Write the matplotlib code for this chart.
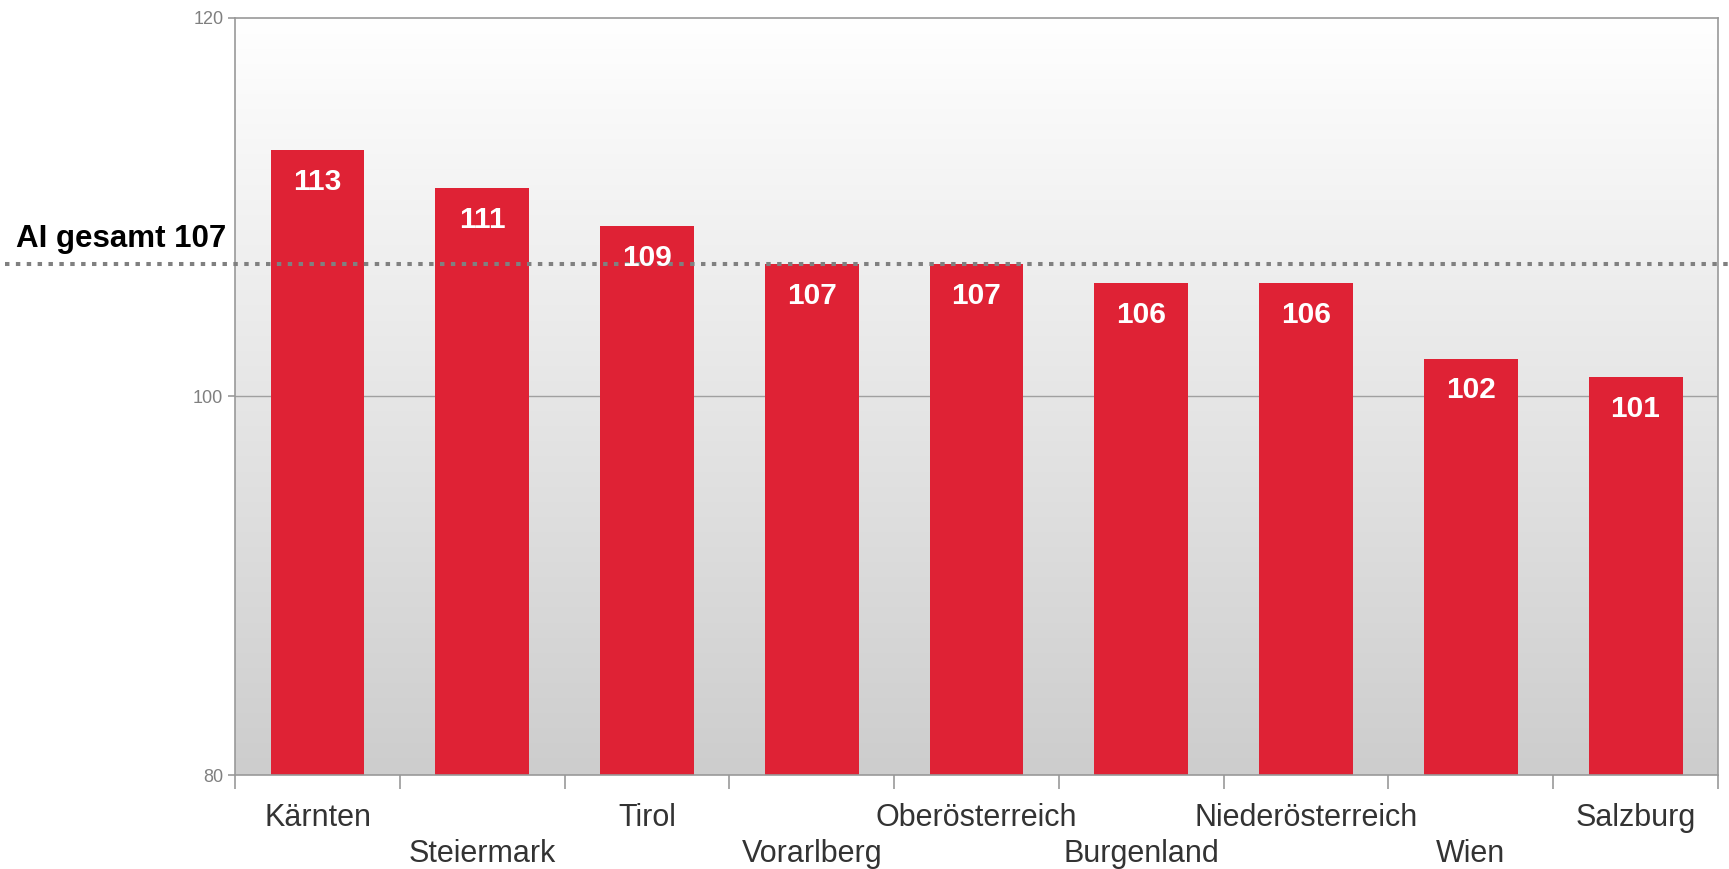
import matplotlib
matplotlib.use('Agg')
import matplotlib.pyplot as plt
import matplotlib.transforms as mtransforms
from matplotlib.colors import LinearSegmentedColormap
import numpy as np

plt.rcParams['font.family'] = ['Liberation Sans', 'DejaVu Sans']

# Daten
regions = ['Kärnten', 'Steiermark', 'Tirol', 'Vorarlberg', 'Oberösterreich',
           'Burgenland', 'Niederösterreich', 'Wien', 'Salzburg']
values = [113, 111, 109, 107, 107, 106, 106, 102, 101]
total_value = 107
total_label = 'AI gesamt 107'
y_ticks = [80, 100, 120]

fig = plt.figure(figsize=(17.29, 8.69), dpi=100)
ax = fig.add_axes([0.136, 0.108, 0.8576, 0.8717])

x = np.arange(len(regions))

# Hintergrundverlauf
cmap = LinearSegmentedColormap.from_list('bg', ['#cdcdcd', '#ffffff'])
grad = np.linspace(0, 1, 256).reshape(-1, 1)
ax.imshow(grad, extent=[-0.5, len(regions) - 0.5, 80, 120], origin='lower',
          aspect='auto', cmap=cmap, zorder=0)

ax.axhline(100, color='#a0a0a0', lw=1, zorder=1)

bars = ax.bar(x, values, width=0.57, color='#df2235', zorder=2)

ax.set_xlim(-0.5, len(regions) - 0.5)
ax.set_ylim(80, 120)

# Werte in den Balken
for bar, v in zip(bars, values):
    ax.annotate(str(v), (bar.get_x() + bar.get_width() / 2, bar.get_height()),
                xytext=(0, -23), textcoords='offset points',
                ha='center', va='center', color='white', fontsize=21.5,
                fontweight='bold', zorder=5)

# Gesamtlinie
trans = mtransforms.blended_transform_factory(ax.transAxes, ax.transData)
ax.plot([-0.155, 1.01], [total_value, total_value], transform=trans,
        color='#808080', lw=2.9, linestyle=(0, (1.1, 1.6)), clip_on=False, zorder=3)
fig.text(16 / 1729, 1 - 247 / 869, total_label, fontsize=22.5,
         fontweight='bold', color='black', va='baseline', ha='left')

# Achsen
for s in ax.spines.values():
    s.set_color('#999999')
    s.set_linewidth(1.2)

ax.set_yticks(y_ticks)
ax.tick_params(axis='y', colors='#999999', labelcolor='#808080', labelsize=13,
               length=5, width=1.2)
ax.set_xticks(x)
ax.set_xticklabels([])
ax.tick_params(axis='x', which='major', length=0)
ax.set_xticks(np.arange(-0.5, len(regions)), minor=True)
ax.tick_params(axis='x', which='minor', length=10, width=1.2, color='#999999')

# Gestaffelte Beschriftungen
for i, name in enumerate(regions):
    off = -36.5 if i % 2 == 0 else -62.5
    ax.annotate(name, (i, 0), xycoords=('data', 'axes fraction'),
                xytext=(0, off), textcoords='offset points',
                ha='center', va='baseline', fontsize=22, color='#333333')

fig.savefig('out.png', dpi=100)
